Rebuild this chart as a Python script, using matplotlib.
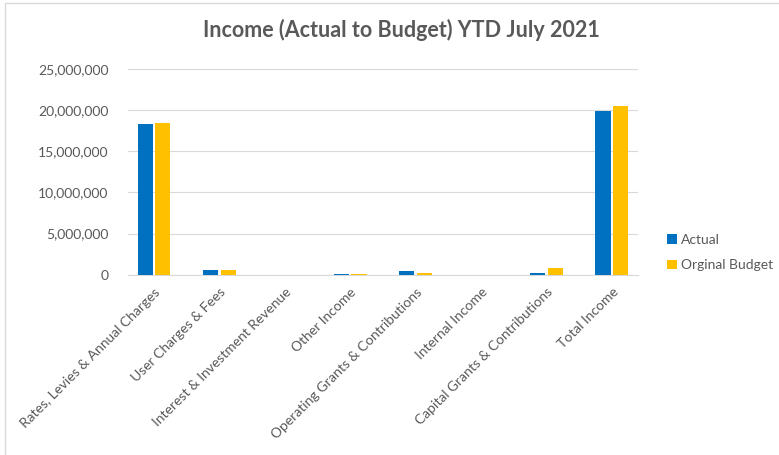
import matplotlib
matplotlib.use("Agg")
import matplotlib.pyplot as plt
import matplotlib.ticker as mticker
import numpy as np

plt.rcParams['font.family'] = ['Lato', 'DejaVu Sans']

categories = [
    'Rates, Levies & Annual Charges',
    'User Charges & Fees',
    'Interest & Investment Revenue',
    'Other Income',
    'Operating Grants & Contributions',
    'Internal Income',
    'Capital Grants & Contributions',
    'Total Income',
]
actual = [18300000, 570000, 0, 160000, 450000, 0, 280000, 19870000]
budget = [18400000, 560000, 0, 120000, 280000, 0, 810000, 20500000]

blue = '#0070C0'
gold = '#FFC000'
grey = '#595959'

fig = plt.figure(figsize=(7.79, 4.55), dpi=100)
ax = fig.add_axes([0.164, 0.396, 0.655, 0.453])

x = np.arange(len(categories))
w = 0.23
ax.bar(x - w / 2 - 0.02, actual, w, color=blue, label='Actual', zorder=3)
ax.bar(x + w / 2 + 0.02, budget, w, color=gold, label='Orginal Budget', zorder=3)

ax.set_ylim(0, 25000000)
ax.set_xlim(-0.4, len(categories) - 0.6)
ax.yaxis.set_major_locator(mticker.MultipleLocator(5000000))
ax.yaxis.set_major_formatter(mticker.FuncFormatter(lambda v, p: f'{v:,.0f}'))
ax.grid(axis='y', color='#D9D9D9', linewidth=0.8, zorder=0)
for s in ['top', 'right', 'left']:
    ax.spines[s].set_visible(False)
ax.spines['bottom'].set_color('#D9D9D9')
ax.tick_params(axis='both', length=0, colors=grey, labelsize=10)
ax.tick_params(axis='y', pad=14)
ax.tick_params(axis='x', pad=8)

ax.set_xticks(x)
ax.set_xticklabels(categories, rotation=45, ha='right', rotation_mode='anchor')

fig.text(0.515, 0.935, 'Income (Actual to Budget) YTD July 2021', ha='center', va='center',
         fontsize=15.5, fontweight='bold', color=grey)

fig.legend(loc='center left', bbox_to_anchor=(0.84, 0.445), frameon=False,
           fontsize=10, labelcolor=grey, handlelength=0.7, handleheight=0.7,
           handletextpad=0.3, labelspacing=1.0)

# frame round the chart, running off the right and bottom edges
fig.add_artist(plt.Rectangle((0.006, -0.02), 1.02, 1.014, transform=fig.transFigure,
                             fill=False, edgecolor='#D9D9D9', linewidth=1))

fig.savefig('out.png', dpi=100, facecolor='white')
